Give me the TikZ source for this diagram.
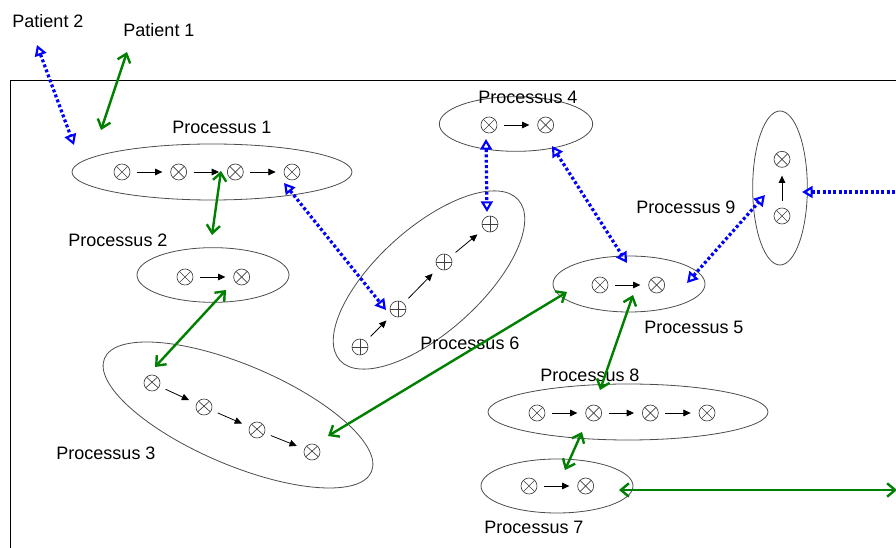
\documentclass[tikz,border=0pt]{standalone}
\usepackage{fontspec}
\setmainfont{Liberation Sans}
\usetikzlibrary{shapes.geometric, arrows.meta, positioning}

\begin{document}
\begin{tikzpicture}[
    x=0.75pt, y=-0.75pt,
    node distance=30pt,
    gtip/.tip={Straight Barb[length=6pt, width=10pt]},
    btip/.tip={Triangle[open, length=8pt, width=9pt, line width=1.6pt]},
    proc/.style={ellipse, draw=black!70, line width=0.6pt, inner sep=0pt},
    title/.style={inner sep=1pt, font=\fontsize{13.5}{16}\selectfont},
    xsym/.style={circle, draw=black!75, line width=0.5pt, minimum size=12pt, inner sep=0pt,
        path picture={\draw[black!75, line width=0.5pt] (path picture bounding box.north west) -- (path picture bounding box.south east) (path picture bounding box.north east) -- (path picture bounding box.south west);}},
    psym/.style={circle, draw=black!75, line width=0.5pt, minimum size=12pt, inner sep=0pt,
        path picture={\draw[black!75, line width=0.5pt] (path picture bounding box.north) -- (path picture bounding box.south) (path picture bounding box.east) -- (path picture bounding box.west);}},
    flow/.style={-{Triangle[length=5.5pt, width=5pt]}, line width=0.6pt, shorten <=5pt, shorten >=6pt},
    glink/.style={gtip-gtip, draw=green!50!black, line width=1.8pt},
    blink/.style={btip-btip, draw=blue, line width=2.4pt, dash pattern=on 2.2pt off 1.8pt}
]
\useasboundingbox (0,0) rectangle (896,548);

% Frame
\draw[line width=0.6pt] (10,548) -- (10,80) -- (896,80);

% Patients
\node[title] (pat2) at (48,21) {Patient 2};
\node[title] (pat1) at (159,30) {Patient 1};

% Process ellipses
\node[proc, minimum width=210pt, minimum height=42pt] (e1) at (212,172) {};
\node[proc, minimum width=114pt, minimum height=41pt] (e2) at (213,275) {};
\node[proc, minimum width=217.5pt, minimum height=75pt, rotate=-23] (e3) at (238,415) {};
\node[proc, minimum width=115pt, minimum height=41pt] (e4) at (516,124) {};
\node[proc, minimum width=114pt, minimum height=42pt] (e5) at (629,284) {};
\node[proc, minimum width=180pt, minimum height=78pt, rotate=42] (e6) at (429,280) {};
\node[proc, minimum width=114pt, minimum height=40.5pt] (e7) at (557,486) {};
\node[proc, minimum width=210pt, minimum height=42pt] (e8) at (628,412) {};
\node[proc, minimum width=41pt, minimum height=115.5pt] (e9) at (780,188) {};

% Process titles
\node[title] (t1) at (222,127) {Processus 1};
\node[title] (t2) at (118,240) {Processus 2};
\node[title] (t3) at (106,453) {Processus 3};
\node[title] (t4) at (528,97) {Processus 4};
\node[title] (t5) at (694,327) {Processus 5};
\node[title] (t6) at (470,343) {Processus 6};
\node[title] (t7) at (534,527) {Processus 7};
\node[title] (t8) at (590,375) {Processus 8};
\node[title] (t9) at (686,207) {Processus 9};

% Steps
\node[xsym] (p1a) at (122,172) {};
\node[xsym, right=of p1a] (p1b) {};
\node[xsym, right=of p1b] (p1c) {};
\node[xsym, right=of p1c] (p1d) {};

\node[xsym] (p2a) at (185,277) {};
\node[xsym, right=of p2a] (p2b) {};

\node[xsym, rotate=-23] (p3a) at (152,383) {};
\node[xsym, rotate=-23] (p3b) at (204,407) {};
\node[xsym, rotate=-23] (p3c) at (257,430) {};
\node[xsym, rotate=-23] (p3d) at (312,452) {};

\node[xsym] (p4a) at (489,125) {};
\node[xsym, right=of p4a] (p4b) {};

\node[xsym] (p5a) at (600,285) {};
\node[xsym, right=of p5a] (p5b) {};

\node[psym] (p6a) at (360,347) {};
\node[psym] (p6b) at (398,309) {};
\node[psym] (p6c) at (444,262) {};
\node[psym] (p6d) at (490,224) {};

\node[xsym] (p7a) at (529,486) {};
\node[xsym, right=of p7a] (p7b) {};

\node[xsym] (p8a) at (537,413) {};
\node[xsym, right=of p8a] (p8b) {};
\node[xsym, right=of p8b] (p8c) {};
\node[xsym, right=of p8c] (p8d) {};

\node[xsym] (p9a) at (782,216) {};
\node[xsym, above=of p9a] (p9b) {};

% Flows inside processes
\draw[flow] (p1a) -- (p1b);
\draw[flow] (p1b) -- (p1c);
\draw[flow] (p1c) -- (p1d);
\draw[flow] (p2a) -- (p2b);
\draw[flow] (p3a) -- (p3b);
\draw[flow] (p3b) -- (p3c);
\draw[flow] (p3c) -- (p3d);
\draw[flow] (p4a) -- (p4b);
\draw[flow] (p5a) -- (p5b);
\draw[flow] (p6a) -- (p6b);
\draw[flow] (p6b) -- (p6c);
\draw[flow] (p6c) -- (p6d);
\draw[flow] (p7a) -- (p7b);
\draw[flow] (p8a) -- (p8b);
\draw[flow] (p8b) -- (p8c);
\draw[flow] (p8c) -- (p8d);
\draw[flow] (p9a) -- (p9b);

% Link ends
\coordinate (g1a) at (127,52);
\coordinate (g1b) at (101,130);
\coordinate (g2a) at (221,171);
\coordinate (g2b) at (212,235);
\coordinate (g3a) at (226,290);
\coordinate (g3b) at (155,367);
\coordinate (g4a) at (328,436);
\coordinate (g4b) at (567,292);
\coordinate (g5a) at (633,295);
\coordinate (g5b) at (600,390);
\coordinate (g6a) at (582,432);
\coordinate (g6b) at (565,470);
\coordinate (g7a) at (619,490);
\coordinate (g7b) at (897,490);
\coordinate (b1a) at (37,45);
\coordinate (b1b) at (74,145);
\coordinate (b2a) at (284,183);
\coordinate (b2b) at (386,310);
\coordinate (b3a) at (486,139);
\coordinate (b3b) at (487,212);
\coordinate (b4a) at (552,146);
\coordinate (b4b) at (627,263);
\coordinate (b5a) at (687,283);
\coordinate (b5b) at (765,195);
\coordinate (b6a) at (802,192);
\coordinate (b6b) at (900,192);

% Green links
\draw[glink] (g1a) -- (g1b);
\draw[glink] (g2a) -- (g2b);
\draw[glink] (g3a) -- (g3b);
\draw[glink] (g4a) -- (g4b);
\draw[glink] (g5a) -- (g5b);
\draw[glink] (g6a) -- (g6b);
\draw[glink] (g7a) -- (g7b);

% Blue links
\draw[blink] (b1a) -- (b1b);
\draw[blink] (b2a) -- (b2b);
\draw[blink] (b3a) -- (b3b);
\draw[blink] (b4a) -- (b4b);
\draw[blink] (b5a) -- (b5b);
\draw[blink, btip-] (b6a) -- (b6b);

\end{tikzpicture}
\end{document}
